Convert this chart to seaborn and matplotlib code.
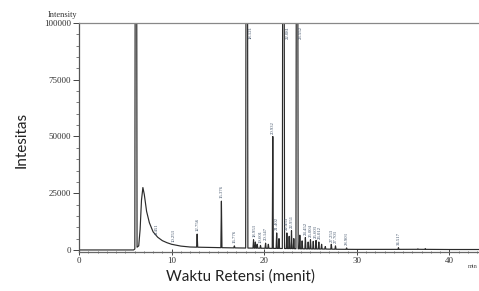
import matplotlib
matplotlib.use("Agg")
import matplotlib.pyplot as plt
import seaborn as sns
import pandas as pd
from matplotlib.ticker import MultipleLocator

# ---- data ----
# baseline / broad-band points (retention time in min, intensity)
base_time = [0.0, 5.9, 6.45, 6.6, 6.75, 6.9, 7.05, 7.3, 7.6, 8.0, 8.5, 9.0, 9.5, 10.0, 11.0,
             12.0, 14.0, 17.0, 20.0, 23.0, 24.0, 26.5, 28.0, 30.0, 34.0, 36.0, 38.0, 40.0, 43.2]
base_int = [0, 0, 1800, 9000, 22000, 27500, 24500, 17000, 12000, 8000, 5600, 4100, 3200, 2500, 1700,
            1300, 1100, 900, 750, 600, 500, 400, 300, 250, 250, 300, 250, 200, 200]

# peaks: retention time, apex height (large ones go off scale)
peak_rt = [6.15, 12.76, 15.38, 16.78, 18.12, 18.85, 19.05, 19.25, 19.6, 20.15, 20.45, 20.93,
           21.35, 21.6, 22.08, 22.45, 22.7, 22.95, 23.2, 23.55, 23.85, 24.1, 24.45, 24.75,
           25.0, 25.3, 25.6, 25.9, 26.2, 26.6, 27.25, 27.7, 28.9, 34.5, 36.6, 37.4]
peak_h = [400000, 7000, 21500, 1800, 400000, 4500, 3500, 2500, 2000, 3000, 2500, 50000,
          7500, 5000, 400000, 7500, 6000, 8500, 5000, 400000, 6500, 4000, 5500, 3500,
          4500, 3800, 4200, 3500, 2500, 1500, 2500, 1800, 900, 1000, 500, 600]

# peak annotations
label_rt = [8.45, 10.25, 12.76, 15.38, 16.78, 18.12, 18.95, 19.6, 20.15, 20.93, 21.4, 22.08,
            22.45, 22.95, 23.55, 24.45, 25.0, 25.6, 26.0, 27.25, 27.7, 28.9, 34.5]
label_text = ["8.451", "10.253", "12.756", "15.376", "16.776", "18.121", "18.953", "19.601",
              "20.147", "20.932", "21.402", "22.081", "22.453", "22.951", "23.552", "24.452",
              "25.004", "25.603", "26.012", "27.253", "27.703", "28.903", "34.517"]

# ---- build trace from the points above ----
pts = dict(zip(base_time, base_int))
def base_at(t):
    ts = sorted(pts)
    for a, b in zip(ts[:-1], ts[1:]):
        if a <= t <= b:
            return pts[a] + (pts[b] - pts[a]) * (t - a) / (b - a)
    return 0
all_pts = dict(zip(base_time, base_int))
for rt, h in zip(peak_rt, peak_h):
    w = 0.12 if h > 100000 else 0.06
    b0 = base_at(rt - w)
    b1 = base_at(rt + w)
    all_pts[round(rt - w, 4)] = b0
    all_pts[round(rt, 4)] = h
    all_pts[round(rt + w, 4)] = b1
df = pd.DataFrame(sorted(all_pts.items()), columns=["time", "intensity"])

sns.set_theme(style="ticks")
serif = ["Liberation Serif", "DejaVu Serif"]

fig = plt.figure(figsize=(4.79, 2.91), dpi=100)
ax = fig.add_axes([79 / 479, 1 - 252 / 291, 400 / 479, (252 - 23) / 291])
sns.lineplot(data=df, x="time", y="intensity", ax=ax, color="#2b2b2b", lw=0.85,
             estimator=None, sort=True)

ax.set_xlim(0, 43.2)
ax.set_ylim(-900, 100000)
ax.set_xlabel("")
ax.set_ylabel("")
ax.set_xticks([0, 10, 20, 30, 40])
ax.set_yticks([0, 25000, 50000, 75000, 100000])
ax.xaxis.set_minor_locator(MultipleLocator(1))
ax.yaxis.set_minor_locator(MultipleLocator(5000))
ax.tick_params(axis="both", which="major", labelsize=6.5, length=4, width=0.7,
               colors="#444444", labelcolor="#333333", pad=1.5)
ax.tick_params(axis="both", which="minor", length=2, width=0.6, colors="#666666")
ax.tick_params(axis="x", which="both", direction="inout")
for lab in ax.get_xticklabels() + ax.get_yticklabels():
    lab.set_family(serif)
ax.spines["right"].set_visible(False)
ax.spines["top"].set_color("#888888")
ax.spines["left"].set_color("#555555")
ax.spines["bottom"].set_color("#666666")
for s in ["top", "left", "bottom"]:
    ax.spines[s].set_linewidth(0.9)

for rt, txt in zip(label_rt, label_text):
    h = max([hh for r, hh in zip(peak_rt, peak_h) if abs(r - rt) < 0.2] + [base_at(rt)])
    if h > 100000:
        ax.text(rt + 0.45, 98500, txt, rotation=90, fontsize=3.4, va="top", ha="center",
                color="#3d4f66", family=serif)
    else:
        ax.text(rt, h + 1200, txt, rotation=90, fontsize=3.4, va="bottom", ha="center",
                color="#3d4f66", family=serif)

fig.text(77 / 479, 1 - 15 / 291, "Intensity", fontsize=6, family=serif, ha="right",
         va="center", color="#333333")
fig.text(478 / 479, 1 - 266 / 291, "min", fontsize=4.5, family=serif, ha="right",
         va="center", color="#444444")
fig.text(240 / 479, 1 - 277 / 291, "Waktu Retensi (menit)", fontsize=11, family="Lato",
         ha="center", va="center", color="#222222")
fig.text(22 / 479, 1 - 140 / 291, "Intesitas", fontsize=11, family="Lato", rotation=90,
         ha="center", va="center", color="#222222")

fig.savefig("out.png", dpi=100)
